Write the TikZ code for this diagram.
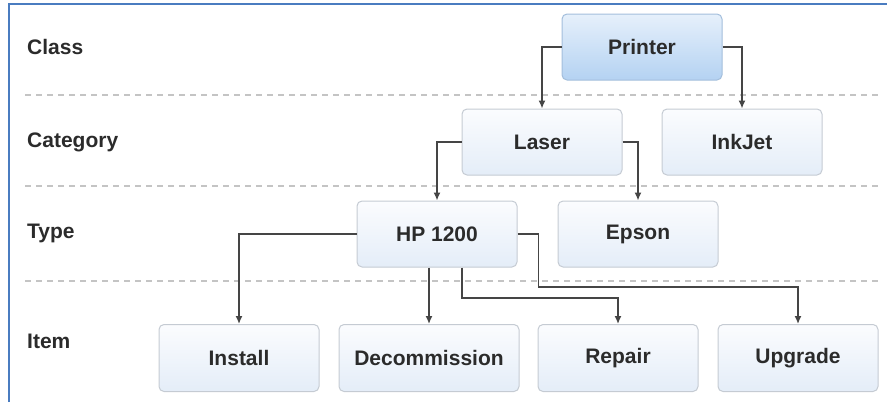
\documentclass[tikz,border=0pt]{standalone}
\usepackage{fontspec}
\setmainfont{Liberation Sans}
\usetikzlibrary{arrows.meta}
\definecolor{frameblue}{HTML}{4A7CC0}
\definecolor{boxline}{HTML}{C5CBD3}
\definecolor{boxtop}{HTML}{FBFCFE}
\definecolor{boxbot}{HTML}{E4EDF8}
\definecolor{clstop}{HTML}{E6F0FB}
\definecolor{clsbot}{HTML}{B4D2F2}
\definecolor{clsline}{HTML}{A3BEDC}
\definecolor{wire}{HTML}{454545}
\definecolor{sep}{HTML}{C4C4C4}
\definecolor{ink}{HTML}{2B2B2B}
\begin{document}
\begin{tikzpicture}[x=1pt,y=-1pt,
	font=\fontsize{21}{25}\selectfont\bfseries, text=ink,
	level/.style={draw=boxline, line width=1pt, rounded corners=5pt, top color=boxtop, bottom color=boxbot, minimum width=160pt, minimum height=66pt, inner sep=0pt},
	root/.style={level, draw=clsline, top color=clstop, bottom color=clsbot},
	row/.style={anchor=west, inner sep=0pt},
	conn/.style={draw=wire, line width=1.4pt, -{Latex[length=8pt,width=7pt]}},
	divider/.style={draw=sep, line width=1.5pt, dash pattern=on 6pt off 5pt}]
	\useasboundingbox (0,0) rectangle (887,402);
	\draw[frameblue, line width=2pt] (9,402) -- (9,4) -- (887,4);

	% row titles
	\node[row] (class) at (27,47) {Class};
	\node[row] (category) at (27,142) {Category};
	\node[row] (type) at (27,233) {Type};
	\node[row] (item) at (27,341) {Item};

	\draw[divider] (25,95) -- (880,95);
	\draw[divider] (25,186) -- (880,186);
	\draw[divider] (25,281) -- (880,281);

	\node[root] (printer) at (642,47) {Printer};
	\node[level] (laser) at (542,142) {Laser};
	\node[level] (inkjet) at (742,142) {InkJet};
	\node[level] (hp) at (437,234) {HP 1200};
	\node[level] (epson) at (638,234) {Epson};
	\node[level, minimum height=67pt] (install) at (239,358) {Install};
	\node[level, minimum height=67pt, minimum width=180pt] (decomm) at (429,358) {Decommission};
	\node[level, minimum height=67pt] (repair) at (618,358) {Repair};
	\node[level, minimum height=67pt] (upgrade) at (798,358) {Upgrade};

	\draw[conn] (printer.west) -| (laser.north);
	\draw[conn] (printer.east) -| (inkjet.north);
	\draw[conn] (laser.west) -| (hp.north);
	\draw[conn] (laser.east) -| (epson.north);
	\draw[conn] (hp.west) -| (install.north);
	\draw[conn] (decomm.north |- hp.south) -- (decomm.north);
	\draw[conn] ([xshift=25pt]hp.south) |- ([yshift=26pt]repair.north) -- (repair.north);
	\draw[conn] (hp.east) -- ++(21,0) |- ([yshift=37pt]upgrade.north) -- (upgrade.north);
\end{tikzpicture}
\end{document}
